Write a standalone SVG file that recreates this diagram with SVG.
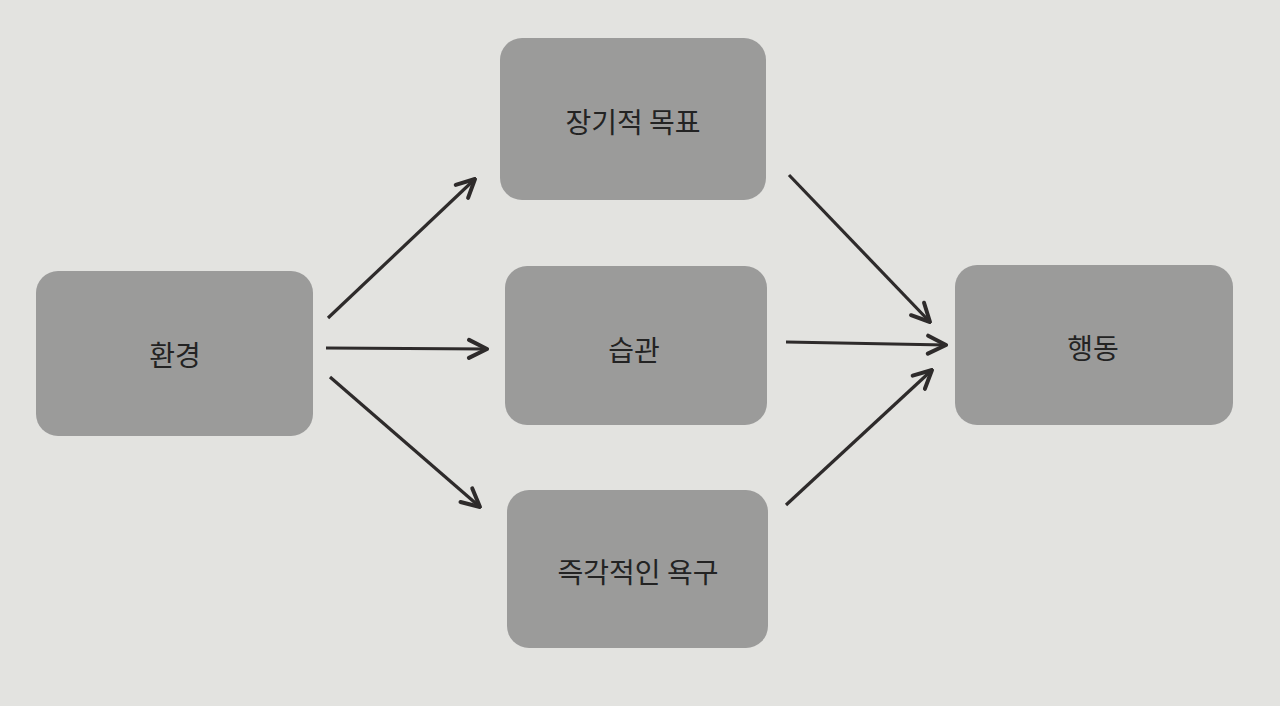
<svg xmlns="http://www.w3.org/2000/svg" width="1280" height="706" viewBox="0 0 1280 706">
<defs>
<style>
.box{fill:#9b9b9a;}
.lbl{font-family:"Noto Sans CJK KR","Noto Sans",sans-serif;font-size:28px;fill:#232323;text-anchor:middle;dominant-baseline:central;}
.arr{stroke:#2e2b2b;stroke-width:3.2;fill:none;marker-end:url(#ah);}
</style>
<marker id="ah" viewBox="0 0 24 24" refX="22" refY="12" markerWidth="24" markerHeight="24" markerUnits="userSpaceOnUse" orient="auto">
<path d="M4,3 L22,12 L4,21" fill="none" stroke="#2e2b2b" stroke-width="4" stroke-linecap="round" stroke-linejoin="round"/>
</marker>
</defs>
<rect width="1280" height="706" fill="#e3e3e0"/>
<g id="n-env"><rect class="box" x="36" y="271" width="277" height="165" rx="22"/><text class="lbl" x="175" y="354">환경</text></g>
<g id="n-goal"><rect class="box" x="500" y="38" width="266" height="162" rx="22"/><text class="lbl" x="633" y="121">장기적 목표</text></g>
<g id="n-habit"><rect class="box" x="505" y="266" width="262" height="159" rx="22"/><text class="lbl" x="634" y="349">습관</text></g>
<g id="n-desire"><rect class="box" x="507" y="490" width="261" height="158" rx="22"/><text class="lbl" x="638" y="571">즉각적인 욕구</text></g>
<g id="n-action"><rect class="box" x="955" y="265" width="278" height="160" rx="22"/><text class="lbl" x="1093" y="347">행동</text></g>
<g id="connectors">
<line class="arr" x1="328" y1="318" x2="475" y2="179"/>
<line class="arr" x1="326" y1="348" x2="487" y2="349"/>
<line class="arr" x1="330" y1="377" x2="480" y2="507"/>
<line class="arr" x1="789" y1="175" x2="930" y2="322"/>
<line class="arr" x1="786" y1="342" x2="946" y2="345"/>
<line class="arr" x1="786" y1="505" x2="932" y2="370"/>
</g>
</svg>
